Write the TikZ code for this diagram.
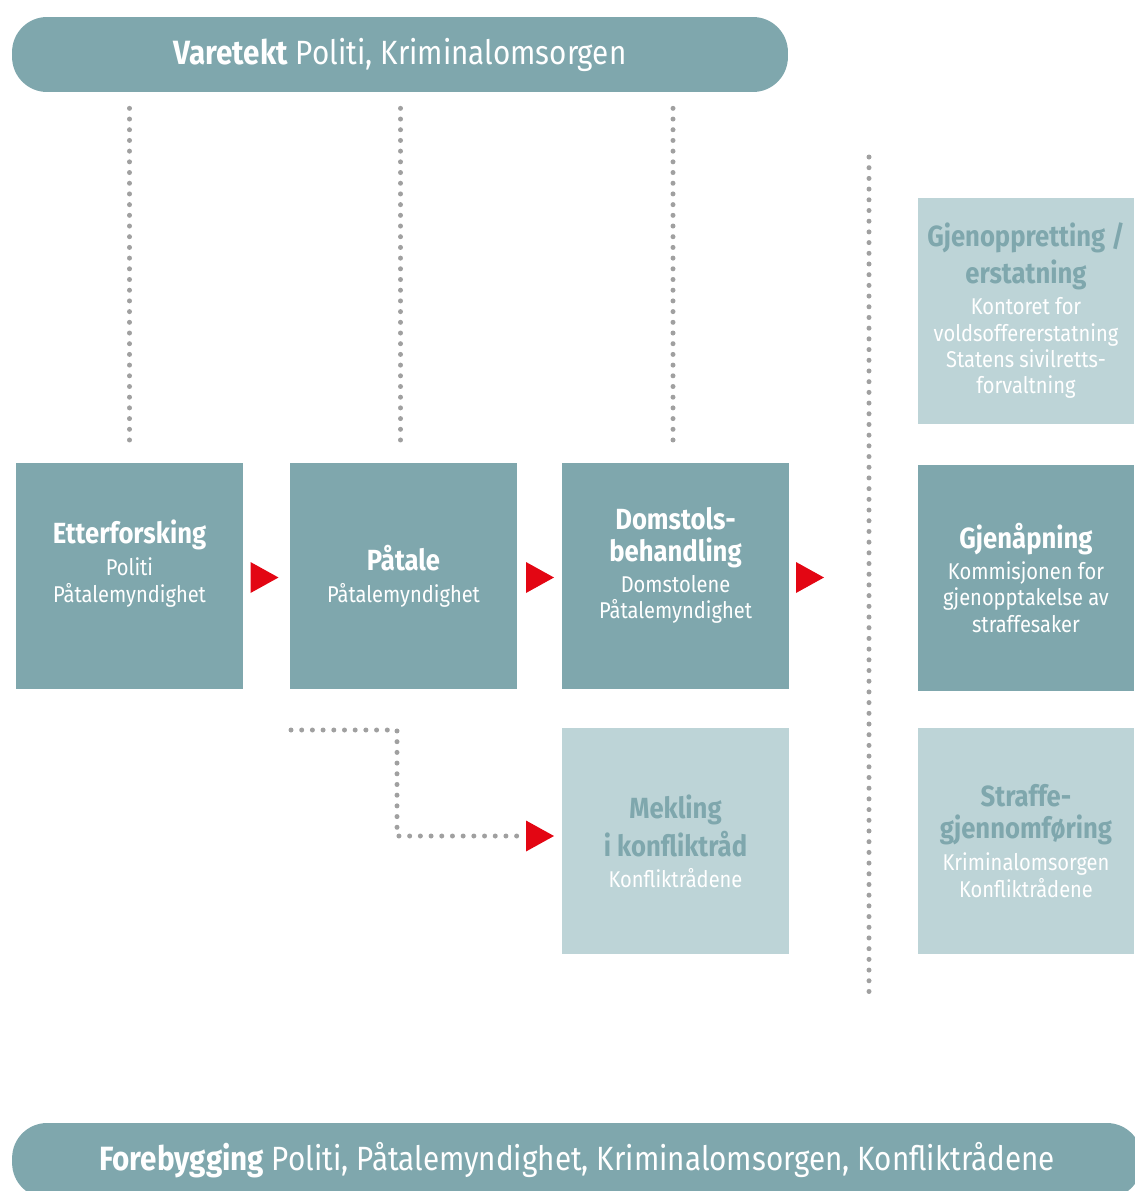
\documentclass[tikz,border=0pt]{standalone}
\usepackage{fontspec}
\setmainfont{Fira Sans}[FakeStretch=0.88]
\definecolor{tealdark}{HTML}{7FA7AD}
\definecolor{teallight}{HTML}{BDD4D7}
\definecolor{arrowred}{HTML}{E30613}
\definecolor{dotgray}{HTML}{A0A0A0}
\newcommand{\stagehead}{\fontsize{16.6}{15}\selectfont\bfseries}
\newcommand{\stagesub}{\fontsize{13}{15}\selectfont}
\newcommand{\barfont}{\fontsize{19.15}{22}\selectfont}

\begin{document}
\begin{tikzpicture}[x=0.02cm,y=-0.02cm]
    % Define styles for different elements
    \tikzstyle{stage} = [rectangle, fill=tealdark, text=white, font=\stagesub, minimum width=4.54cm, minimum height=4.52cm, inner sep=0pt, align=center]
    \tikzstyle{sidestage} = [rectangle, fill=teallight, text=white, font=\stagesub, minimum width=4.54cm, minimum height=4.52cm, inner sep=0pt, align=center]
    \tikzstyle{bar} = [rectangle, rounded corners=0.7cm, fill=tealdark, text=white, font=\barfont, minimum height=1.5cm, inner sep=0pt]
    \tikzstyle{tri} = [rectangle, minimum width=0.56cm, minimum height=0.62cm, inner sep=0pt,
        path picture={\fill[arrowred] (path picture bounding box.north west) -- (path picture bounding box.east) -- (path picture bounding box.south west) -- cycle;}]
    \tikzstyle{dots} = [draw=dotgray, line width=0.1cm, line cap=round, dash pattern=on 0pt off 0.214cm]

    \useasboundingbox (0,0) rectangle (1134,1191);

    % Bars at top and bottom
    \node[bar, minimum width=15.52cm] (varetekt) at (400,54.5) {\textbf{Varetekt} Politi, Kriminalomsorgen};
    \node[bar, minimum width=22.6cm] (forebygging) at (577,1160.5) {\textbf{Forebygging} Politi, Påtalemyndighet, Kriminalomsorgen, Konfliktrådene};

    % Main chain
    \node[stage] (etter) at (129.5,576) {\stagehead Etterforsking\\[3.5pt]Politi\\Påtalemyndighet\\[2pt]\mbox{}};
    \node[stage] (patale) at (403.5,576) {\stagehead Påtale\\[3pt]Påtalemyndighet};
    \node[stage] (domstol) at (675.5,576) {\stagehead Domstols-\\[3pt]\stagehead behandling\\[2.5pt]Domstolene\\Påtalemyndighet\\[-0.5pt]\mbox{}};

    % Mediation
    \node[sidestage] (mekling) at (675.5,841) {\stagehead\color{tealdark}Mekling\\[2.5pt]\stagehead\color{tealdark}i konfliktråd\\[2.5pt]Konfliktrådene};

    % After the verdict
    \node[sidestage, minimum width=4.32cm] (gjenopp) at (1026,311) {\stagehead\color{tealdark}Gjenoppretting /\\[2.5pt]\stagehead\color{tealdark}erstatning\\[3pt]Kontoret for\\voldsoffererstatning\\Statens sivilretts-\\forvaltning};
    \node[stage, minimum width=4.32cm] (gjenapning) at (1026,578) {\stagehead Gjenåpning\\[2.5pt]Kommisjonen for\\gjenopptakelse av\\straffesaker};
    \node[sidestage, minimum width=4.32cm] (straffe) at (1026,841) {\stagehead\color{tealdark}Straffe-\\[3pt]\stagehead\color{tealdark}gjennomføring\\[3.5pt]Kriminalomsorgen\\Konfliktrådene};

    % Red arrows
    \node[tri] (tri1) at (264.5,577.5) {};
    \node[tri] (tri2) at (540,577.5) {};
    \node[tri] (tri3) at (810,577.5) {};
    \node[tri] (tri4) at (540,836) {};

    % Dotted lines from custody
    \draw[dots, shorten <=0.32cm, shorten >=0.34cm] (varetekt.south -| etter.north) -- (etter.north);
    \draw[dots, shorten <=0.32cm, shorten >=0.34cm, transform canvas={xshift=-0.06cm}] (varetekt.south -| patale.north) -- (patale.north);
    \draw[dots, shorten <=0.32cm, shorten >=0.34cm, transform canvas={xshift=-0.05cm}] (varetekt.south -| domstol.north) -- (domstol.north);

    % Separator
    \coordinate (septop) at (869,157);
    \coordinate (sepbot) at (869,996);
    \draw[dots] (septop) -- (sepbot);

    % Path to mediation
    \coordinate (mekstart) at (291,730);
    \coordinate (mekbend) at (397,730);
    \draw[dots, shorten >=0.1cm] (mekstart) -- (mekbend) |- (tri4.west);
\end{tikzpicture}
\end{document}
